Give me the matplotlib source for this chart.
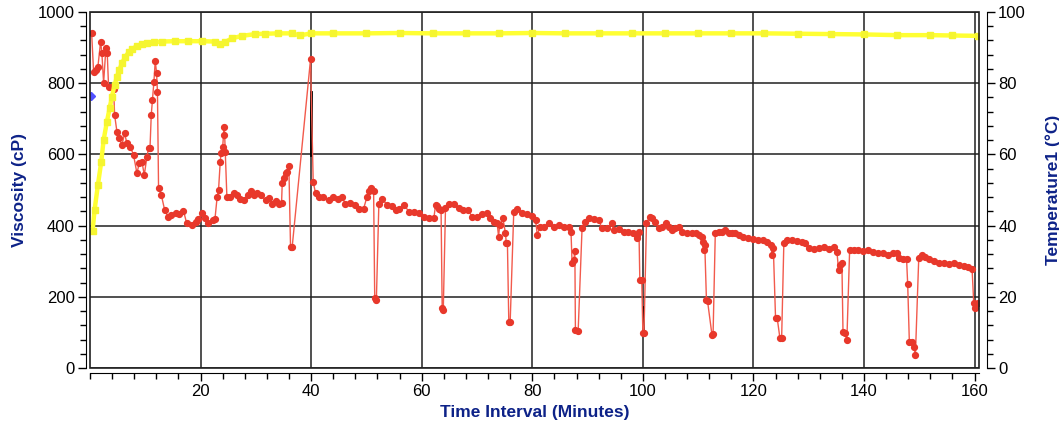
import matplotlib.pyplot as plt
from matplotlib.ticker import MultipleLocator
from matplotlib.patches import Rectangle

plt.rcParams['font.family'] = ['Liberation Sans', 'DejaVu Sans']

# viscosity (cP) vs time (min)
visc_time = [
    0.3, 0.65, 1.07, 1.43, 1.92, 2.15, 2.46, 2.88, 3.12, 3.36, 3.8, 4.27, 4.45, 4.87,
    5.29, 5.77, 6.26, 6.68, 7.28, 7.88, 8.49, 8.9, 9.39, 9.82, 10.3, 10.6, 10.85, 11.08,
    11.3, 11.56, 11.8, 12.04, 12.2, 12.4, 12.9, 13.5, 14.1, 14.7, 15.5, 16.1, 16.9, 17.5,
    18.4, 19.2, 19.6, 20.2, 20.8, 21.4, 22.2, 22.6, 23.0, 23.25, 23.56, 23.7, 24.0, 24.15,
    24.3, 24.46, 24.76, 25.4, 25.97, 26.6, 27.2, 27.9, 28.55, 29.1, 29.6, 30.2, 30.85,
    31.75, 32.4, 32.97, 33.6, 34.16, 34.65, 34.77, 35.06, 35.37, 35.7, 35.97, 36.27, 36.57,
    39.89, 40.37, 40.8, 41.4, 42.2, 43.2, 44.0, 44.9, 45.5, 46.2, 47.1, 48.0, 48.6, 49.5,
    50.1, 50.4, 50.9, 51.3, 51.5, 51.8, 52.25, 52.85, 53.8, 54.7, 55.3, 55.9, 56.8, 57.7,
    58.6, 59.5, 60.4, 61.3, 62.2, 62.5, 62.8, 63.1, 63.5, 63.7, 63.9, 64.3, 64.9, 65.8,
    66.7, 67.5, 68.4, 69.1, 70.0, 70.9, 71.8, 72.4, 73.0, 73.65, 73.9, 74.1, 74.7, 75.15,
    75.3, 75.5, 75.75, 76.0, 76.65, 77.3, 78.2, 79.1, 80.0, 80.6, 80.9, 81.4, 82.1, 83.0,
    83.9, 84.8, 85.7, 86.6, 87.0, 87.2, 87.5, 87.7, 87.8, 88.3, 89.0, 89.6, 90.2, 91.1,
    92.0, 92.6, 93.5, 94.4, 94.7, 95.6, 96.5, 97.4, 98.3, 98.85, 99.0, 99.3, 99.45, 99.8,
    100.0, 100.2, 100.65, 101.25, 101.6, 102.2, 102.9, 103.5, 104.1, 104.7, 105.3, 105.9,
    106.5, 107.1, 108.0, 108.9, 109.7, 110.1, 110.7, 110.9, 111.0, 111.2, 111.5, 111.7,
    112.5, 112.7, 113.1, 113.7, 114.3, 114.9, 115.5, 116.1, 116.7, 117.3, 118.2, 119.1,
    120.0, 120.9, 121.8, 122.4, 123.1, 123.4, 123.6, 124.0, 124.3, 124.8, 125.1, 125.5,
    126.1, 127.0, 127.9, 128.8, 129.4, 130.0, 130.9, 131.8, 132.7, 133.6, 134.5, 135.1,
    135.4, 135.7, 136.0, 136.2, 136.5, 136.9, 137.4, 138.1, 139.0, 139.9, 140.8, 141.7,
    142.6, 143.5, 144.4, 145.3, 146.0, 146.4, 147.1, 147.7, 147.9, 148.2, 148.6, 149.0,
    149.3, 149.9, 150.5, 151.1, 151.7, 152.6, 153.5, 154.4, 155.3, 156.2, 157.1, 158.0,
    158.9, 159.55, 159.85, 160.15, 160.6,
]
visc_cp = [
    940, 832, 837, 846, 917, 884, 801, 900, 884, 790, 790, 785, 711, 664,
    645, 626, 659, 631, 622, 598, 547, 575, 580, 542, 594, 617, 617, 711,
    753, 804, 863, 829, 776, 505, 486, 444, 425, 430, 434, 432, 442, 406,
    402, 411, 418, 434, 420, 406, 416, 418, 481, 500, 580, 603, 622, 654,
    678, 608, 481, 480, 491, 486, 476, 473, 486, 498, 486, 491, 486,
    472, 478, 462, 468, 462, 464, 519, 533, 547, 550, 567, 341, 340,
    867, 523, 491, 481, 479, 472, 481, 474, 481, 462, 464, 458, 446, 448,
    481, 496, 505, 496, 196, 192, 462, 474, 458, 455, 444, 448, 458, 439,
    439, 434, 425, 420, 421, 458, 455, 447, 444, 168, 164, 449, 462, 462,
    449, 444, 444, 425, 425, 432, 434, 420, 411, 406, 369, 401, 420, 378,
    350, 352, 130, 130, 439, 446, 434, 432, 427, 416, 374, 397, 397, 406,
    397, 401, 397, 397, 383, 294, 303, 329, 107, 105, 392, 411, 420, 418,
    417, 392, 392, 406, 388, 390, 383, 383, 380, 374, 364, 383, 247, 247,
    97, 97, 406, 425, 420, 411, 392, 397, 408, 397, 388, 392,
    397, 383, 378, 380, 378, 374, 369, 355, 331, 346, 191, 188,
    93, 95, 378, 383, 383, 388, 380, 378, 378, 374, 369, 364,
    362, 360, 360, 355, 346, 317, 337, 140, 140, 83, 83, 350,
    360, 360, 358, 355, 350, 336, 334, 336, 341, 334, 341, 327,
    275, 289, 296, 102, 99, 79, 331, 331, 331, 329, 331, 327,
    324, 322, 317, 322, 322, 308, 306, 305, 236, 74, 72, 60,
    37, 308, 317, 313, 306, 301, 296, 296, 292, 296, 289, 287,
    283, 277, 182, 168, 182,
]

# temperature (°C) vs time (min)
temp_time = [
    0.47, 0.83, 1.43, 2.04, 2.46, 3.06, 3.54, 3.96, 4.45, 4.87, 5.3, 5.77, 6.38, 6.98,
    7.58, 8.49, 9.39, 10.3, 11.5, 13.0, 15.4, 17.8, 20.2, 22.6, 23.6, 24.5, 25.7, 27.5,
    29.9, 31.7, 34.0, 36.5, 38.0, 39.9, 44.0, 50.0, 56.0, 62.0, 68.0, 74.0, 80.0, 86.0,
    92.0, 98.0, 104.0, 110.0, 116.0, 122.0, 128.0, 134.0, 140.0, 146.0, 152.0, 156.0,
    160.6,
]
temp_c = [
    38.6, 44.4, 51.4, 58.0, 64.0, 69.2, 72.9, 76.2, 79.5, 81.8, 83.7, 85.6, 87.4, 88.7,
    89.6, 90.4, 90.9, 91.2, 91.5, 91.7, 91.8, 91.8, 91.8, 91.7, 91.0, 91.6, 92.6, 93.3,
    93.8, 93.9, 94.0, 94.0, 93.4, 94.0, 94.0, 94.0, 94.1, 94.0, 94.0, 94.0, 94.1, 94.0,
    94.0, 94.0, 94.0, 94.0, 94.0, 94.0, 93.9, 93.8, 93.7, 93.5, 93.5, 93.4,
    93.3,
]

# odd extra marks in the reference
start_time = [0.1]
start_cp = [764]
black_time = [[40.0, 40.0], [100.0, 100.0]]
black_cp = [[776, 598], [171, 101]]

NAVY = '#0d2288'
W, H = 1059, 432

fig = plt.figure(figsize=(W / 100, H / 100), dpi=100)
ax = fig.add_axes([90 / W, 1 - 368 / H, 889 / W, 356 / H])
ax2 = ax.twinx()

# grid first, below data
ax.set_axisbelow(True)
ax.grid(True, which='major', color='#202020', linewidth=1.1)

for bt, bv in zip(black_time, black_cp):
    ax.plot(bt, bv, color='black', linewidth=2, zorder=2)
ax.plot(visc_time, visc_cp, color='#f25a4c', linewidth=1.0, marker='o',
        markersize=4.2, markerfacecolor='#e8382b', markeredgecolor='#e8382b', zorder=3)
ax.plot(start_time, start_cp, linestyle='none', marker='D', markersize=4,
        color='#5050ff', zorder=4)

ax2.plot(temp_time, temp_c, color='#ffff33', linewidth=3.2, marker='s',
         markersize=4, markerfacecolor='#f5f530', markeredgecolor='#f5f530', zorder=3)

ax.set_xlim(0, 160.8)
ax.set_ylim(0, 1000)
ax2.set_ylim(0, 100)

ax.set_xticks(range(20, 161, 20))
ax.xaxis.set_minor_locator(MultipleLocator(4))
ax.set_yticks(range(0, 1001, 200))
ax.yaxis.set_minor_locator(MultipleLocator(40))
ax2.set_yticks(range(0, 101, 20))
ax2.yaxis.set_minor_locator(MultipleLocator(4))

for a in (ax, ax2):
    a.tick_params(which='major', length=6, width=1, labelsize=12, pad=2)
    a.tick_params(which='minor', length=4, width=1)
    for s in a.spines.values():
        s.set_visible(False)

ax.spines['left'].set_visible(True)
ax.spines['left'].set_position(('outward', 3))
ax.spines['bottom'].set_visible(True)
ax.spines['bottom'].set_position(('outward', 3.6))
ax2.spines['right'].set_visible(True)
ax2.spines['right'].set_position(('outward', 5.8))

# plot frame
ax2.add_patch(Rectangle((0, 0), 1, 1, transform=ax.transAxes, fill=False,
                        edgecolor='#202020', linewidth=1.2, clip_on=False, zorder=5))

ax.set_xlabel('Time Interval (Minutes)', fontsize=12.5, fontweight='bold', color=NAVY, labelpad=4)
ax.set_ylabel('Viscosity (cP)', fontsize=12.5, fontweight='bold', color=NAVY, labelpad=8)
ax2.set_ylabel('Temperature1 (°C)', fontsize=12.5, fontweight='bold', color=NAVY, labelpad=14)

fig.savefig('out.png', dpi=100)
